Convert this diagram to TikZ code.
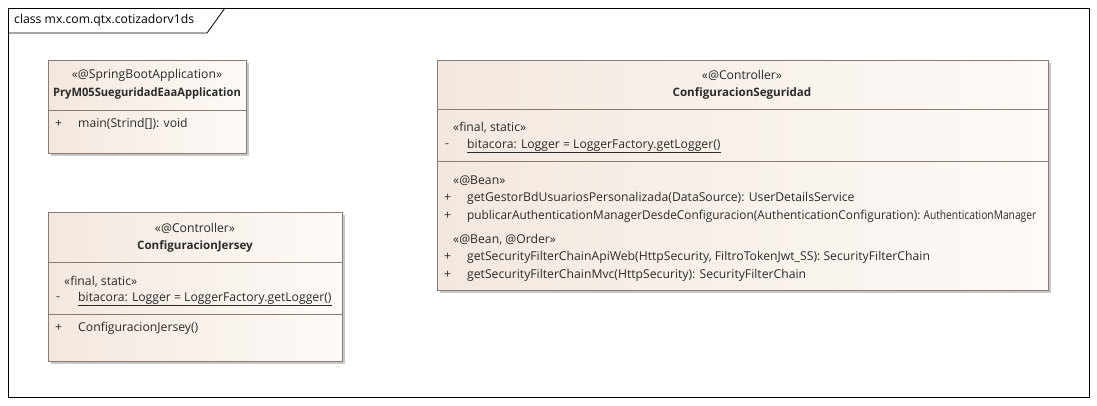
\documentclass[tikz,border=0pt]{standalone}
\usepackage{fontspec}
\setmainfont{Open Sans}
\definecolor{boxline}{HTML}{8C7B72}
\definecolor{boxfill}{HTML}{F3E8DF}
\definecolor{boxfilltwo}{HTML}{FDFAF7}
\definecolor{umltext}{HTML}{2B2B2B}
\tikzset{
  classbox/.style={draw=boxline, left color=boxfill, right color=boxfilltwo, line width=0.8pt},
  boxshadow/.style={fill=black!22, draw=none},
  sepline/.style={draw=boxline, line width=0.8pt},
  stereo/.style={font=\fontsize{12.2}{14}\selectfont, text=umltext, inner sep=0pt},
  cname/.style={font=\fontsize{11.6}{14}\selectfont\bfseries, text=umltext, inner sep=0pt},
  member/.style={font=\fontsize{12.2}{14}\selectfont, text=umltext, anchor=west, inner sep=0pt}
}
\begin{document}
\begin{tikzpicture}[x=1pt, y=-1pt]
\useasboundingbox (0,0) rectangle (1097,405);
\fill[white] (0,0) rectangle (1097,405);

% Package frame with name tab
\draw[black, line width=0.8pt] (8,8) rectangle (1089,397);
\draw[black, line width=0.8pt] (8,33) -- (207,33) -- (225,8);
\node[anchor=west, font=\fontsize{12.2}{14}\selectfont, inner sep=0pt] (frametitle) at (14,20) {class mx.com.qtx.cotizadorv1ds};

% Class 1: application entry point
\fill[boxshadow] (51,63) rectangle (249,156);
\path[classbox] (48,60) rectangle (246,153);
\draw[sepline] (48,110) -- (246,110);
\node[stereo] (appstereo) at (147,75) {«@SpringBootApplication»};
\node[cname] (appname) at (147,93) {\scalebox{0.96}[1]{PryM05SueguridadEaaApplication}};
\node[member] (appvis) at (55,124) {+};
\node[member] (appmain) at (78,124) {main(Strind[]): void};

% Class 2: Jersey configuration
\fill[boxshadow] (51,215) rectangle (345,364);
\path[classbox] (48,212) rectangle (342,361);
\draw[sepline] (48,262) -- (342,262);
\draw[sepline] (48,314) -- (342,314);
\node[stereo] (jerstereo) at (195,228) {«@Controller»};
\node[cname] (jername) at (195,246) {ConfiguracionJersey};
\node[member] (jerattrstereo) at (64,282) {«final, static»};
\node[member] (jerattrvis) at (56,299) {-};
\node[member] (jerattr) at (78,299) {\underline{bitacora: Logger = LoggerFactory.getLogger()}};
\node[member] (jeropvis) at (55,328) {+};
\node[member] (jerop) at (78,328) {ConfiguracionJersey()};

% Class 3: security configuration
\fill[boxshadow] (440,63) rectangle (1051,293);
\path[classbox] (437,60) rectangle (1048,290);
\draw[sepline] (437,109) -- (1048,109);
\draw[sepline] (437,161) -- (1048,161);
\node[stereo] (secstereo) at (742,75) {«@Controller»};
\node[cname] (secname) at (742,93) {ConfiguracionSeguridad};
\node[member] (secattrstereo) at (453,128) {«final, static»};
\node[member] (secattrvis) at (445,146) {-};
\node[member] (secattr) at (467,146) {\underline{bitacora: Logger = LoggerFactory.getLogger()}};
\node[member] (secbean) at (453,181) {«@Bean»};
\node[member] (secvisa) at (444,198) {+};
\node[member] (secopa) at (467,198) {getGestorBdUsuariosPersonalizada(DataSource): UserDetailsService};
\node[member] (secvisb) at (444,216) {+};
% line squeezed to stay inside the box
\node[member] (secopb) at (467,216) {\scalebox{0.97}[1]{publicarAuthenticationManagerDesdeConfiguracion(AuthenticationConfiguration):} \scalebox{0.84}[1]{AuthenticationManager}};
\node[member] (secorder) at (453,240) {«@Bean, @Order»};
\node[member] (secvisc) at (444,257) {+};
\node[member] (secopc) at (467,257) {getSecurityFilterChainApiWeb(HttpSecurity, FiltroTokenJwt\_SS): SecurityFilterChain};
\node[member] (secvisd) at (444,275) {+};
\node[member] (secopd) at (467,275) {getSecurityFilterChainMvc(HttpSecurity): SecurityFilterChain};

\end{tikzpicture}
\end{document}
